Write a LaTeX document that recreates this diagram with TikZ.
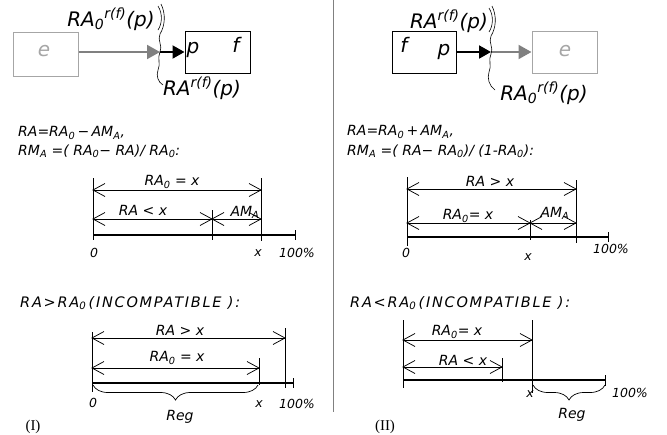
\documentclass[tikz,border=0pt]{standalone}
\usepackage{fontspec}
\setmainfont{DejaVu Sans}
\newfontfamily\romanfont{Liberation Serif}
\usetikzlibrary{arrows.meta,decorations.pathreplacing}
\definecolor{boxgray}{HTML}{A6A6A6}
\definecolor{arrgray}{HTML}{808080}
\definecolor{divgray}{HTML}{808080}
% dimension line with open barbs at both ends (horizontal)
\newcommand\dimln[2]{%
  \draw[dim] (#1) -- (#2);
  \draw[dim] ([shift={(12,-6.5)}]#1) -- (#1) -- ([shift={(12,6.5)}]#1);
  \draw[dim] ([shift={(-12,-6.5)}]#2) -- (#2) -- ([shift={(-12,6.5)}]#2);}
\begin{document}
\begin{tikzpicture}[x=1pt,y=-1pt,
  big/.style={inner sep=0pt, font=\fontsize{20}{22}\selectfont\itshape},
  eq/.style={inner sep=0pt, anchor=west, font=\fontsize{14}{16}\selectfont\itshape},
  captiontext/.style={inner sep=0pt, anchor=west, font=\fontsize{14.5}{16}\selectfont\itshape\addfontfeature{LetterSpace=12}},
  lbl/.style={inner sep=0pt, font=\fontsize{14}{16}\selectfont\itshape},
  small/.style={inner sep=0pt, font=\fontsize{12.5}{14}\selectfont\itshape},
  roman/.style={inner sep=0pt, font=\fontsize{15}{17}\selectfont\romanfont},
  graybox/.style={draw=boxgray, line width=1pt},
  blackbox/.style={draw=black, line width=1pt},
  grayarrow/.style={draw=arrgray, line width=2pt, -{Triangle[length=13pt,width=14pt]}},
  blackarrow/.style={draw=black, line width=2pt, -{Triangle[length=12pt,width=13pt]}},
  cut/.style={line width=0.6pt},
  dim/.style={line width=0.75pt},
  tick/.style={line width=0.8pt},
  axis/.style={line width=1.1pt},
  brc/.style={line width=0.7pt, decorate, decoration={brace,mirror,amplitude=15pt}}
]
\useasboundingbox (0,0) rectangle (667,434);

% divider
\draw[divgray, line width=1pt] (333,0) -- (333,412);

% ---------------- top left ----------------
\node[graybox, minimum width=65pt, minimum height=44pt] (eL) at (45.5,54) {};
\node[big, text=boxgray] (eLt) at (44,51) {e};
\node[blackbox, minimum width=65pt, minimum height=42pt] (fL) at (217.5,52) {};
\node[big] (pL) at (193,50) {p};
\node[big] (fLt) at (236,45) {f};
\coordinate (cutL) at (160,52);
\draw[grayarrow] (eL.east |- cutL) -- (cutL);
\draw[blackarrow] (cutL) -- (fL.west |- cutL);
\draw[cut] (161,4) .. controls (166,14) and (165,26) .. (160,34) .. controls (157,40) and (163,46) .. (160,52) .. controls (157,58) and (161,64) .. (158,70) .. controls (156,76) and (158,82) .. (163,85);
\draw[cut] (158,6) .. controls (163,14) and (162,24) .. (158,30);
\node[big] (lblL1) at (111,19) {RA\textsubscript{0}\textsuperscript{r(f)}(p)};
\node[big] (lblL2) at (202,88) {RA\textsuperscript{r(f)}(p)};

% ---------------- top right ----------------
\node[blackbox, minimum width=64pt, minimum height=42pt] (fR) at (424,52) {};
\node[big] (fRt) at (404,45) {f};
\node[big] (pRt) at (444,52) {p};
\node[graybox, minimum width=65pt, minimum height=42pt] (eR) at (564.5,52) {};
\node[big, text=boxgray] (eRt) at (565,51) {e};
\coordinate (cutR) at (491,52);
\draw[blackarrow] (fR.east |- cutR) -- (cutR);
\draw[grayarrow] (cutR) -- (eR.west |- cutR);
\draw[cut] (492,6) .. controls (497,16) and (496,28) .. (491,36) .. controls (488,42) and (494,48) .. (491,54) .. controls (488,60) and (492,66) .. (489,72) .. controls (487,78) and (489,86) .. (495,90);
\draw[cut] (489,8) .. controls (494,16) and (493,26) .. (489,32);
\node[big] (lblR1) at (449,21) {RA\textsuperscript{r(f)}(p)};
\node[big] (lblR2) at (544,93) {RA\textsubscript{0}\textsuperscript{r(f)}(p)};

% ---------------- equations ----------------
\node[eq] (eqL1) at (18,133) {RA=RA\textsubscript{0}\,−\,AM\textsubscript{A},};
\node[eq] (eqL2) at (18,151) {RM\textsubscript{A} =( RA\textsubscript{0}− RA)/ RA\textsubscript{0}:};
\node[eq] (eqR1) at (347,132) {RA=RA\textsubscript{0}\,+\,AM\textsubscript{A},};
\node[eq] (eqR2) at (347,151) {RM\textsubscript{A} =( RA− RA\textsubscript{0})/ (1-RA\textsubscript{0}):};

% ---------------- diagram left 1 ----------------
\coordinate (a1L) at (93,235); \coordinate (a1E) at (295,235);
\coordinate (a1t1) at (93,190); \coordinate (a1t2) at (261,190);
\coordinate (a1s1) at (93,219); \coordinate (a1s2) at (212,219); \coordinate (a1s3) at (261,219);
\draw[axis] (a1L) -- (a1E);
\draw[tick] (93,178) -- (93,240);
\draw[tick] (261,178) -- (261,241);
\draw[tick] (212,210) -- (212,240);
\draw[tick] (295,230) -- (295,240);
\dimln{a1t1}{a1t2}
\dimln{a1s1}{a1s2}
\dimln{a1s2}{a1s3}
\node[lbl] (d1a) at (172,182) {RA\textsubscript{0} = x};
\node[lbl] (d1b) at (143,210) {RA < x};
\node[lbl] (d1c) at (245,212) {AM\textsubscript{A}};
\node[small] (d1z) at (94,253) {0};
\node[small] (d1x) at (258,253) {x};
\node[small] (d1p) at (297,253) {100\%};

% ---------------- diagram right 1 ----------------
\coordinate (b1L) at (407,237); \coordinate (b1E) at (608,237);
\coordinate (b1t1) at (407,189); \coordinate (b1t2) at (576,189);
\coordinate (b1s1) at (407,223); \coordinate (b1s2) at (530,223); \coordinate (b1s3) at (576,223);
\draw[axis] (b1L) -- (b1E);
\draw[tick] (407,177) -- (407,246);
\draw[tick] (576,180) -- (576,243);
\draw[tick] (530,220) -- (530,240);
\draw[tick] (608,232) -- (608,242);
\dimln{b1t1}{b1t2}
\dimln{b1s1}{b1s2}
\dimln{b1s2}{b1s3}
\node[lbl] (e1a) at (490,181) {RA > x};
\node[lbl] (e1b) at (468,216) {RA\textsubscript{0}= x};
\node[lbl] (e1c) at (555,213) {AM\textsubscript{A}};
\node[small] (e1z) at (406,253) {0};
\node[small] (e1x) at (528,257) {x};
\node[small] (e1p) at (611,249) {100\%};

% ---------------- captions ----------------
\node[captiontext] (capL) at (20,303) {RA>RA\textsubscript{0}\,(INCOMPATIBLE ):};
\node[captiontext] (capR) at (350,303) {RA<RA\textsubscript{0}\,(INCOMPATIBLE ):};

% ---------------- diagram left 2 ----------------
\coordinate (c2t1) at (92,338); \coordinate (c2t2) at (285,338);
\coordinate (c2s1) at (92,368); \coordinate (c2s2) at (259,368);
\coordinate (c2b1) at (93,385); \coordinate (c2b2) at (258,385);
\draw[axis] (92,383) -- (293,383);
\draw[tick] (92,332) -- (92,392);
\draw[tick] (285,328) -- (285,388);
\draw[tick] (259,358) -- (259,385);
\draw[tick] (293,378) -- (293,388);
\dimln{c2t1}{c2t2}
\dimln{c2s1}{c2s2}
\draw[brc] (c2b1) -- (c2b2);
\node[lbl] (f2a) at (180,330) {RA > x};
\node[lbl] (f2b) at (177,358) {RA\textsubscript{0} = x};
\node[small] (f2z) at (93,403) {0};
\node[small] (f2x) at (259,404) {x};
\node[small] (f2p) at (297,404) {100\%};
\node[lbl] (f2r) at (180,417) {Reg};
\node[roman] (numI) at (33,427) {(I)};

% ---------------- diagram right 2 ----------------
\coordinate (d2t1) at (403,340); \coordinate (d2t2) at (532,340);
\coordinate (d2s1) at (403,367); \coordinate (d2s2) at (502,367);
\coordinate (d2b1) at (533,385); \coordinate (d2b2) at (605,385);
\draw[axis] (403,380) -- (605,380);
\draw[tick] (403,320) -- (403,388);
\draw[tick] (532,320) -- (532,393);
\draw[tick] (502,358) -- (502,382);
\draw[tick] (605,375) -- (605,386);
\dimln{d2t1}{d2t2}
\dimln{d2s1}{d2s2}
\draw[brc] (d2b1) -- (d2b2);
\node[lbl] (g2a) at (457,332) {RA\textsubscript{0}= x};
\node[lbl] (g2b) at (463,360) {RA < x};
\node[small] (g2x) at (530,394) {x};
\node[small] (g2p) at (630,393) {100\%};
\node[lbl] (g2r) at (572,415) {Reg};
\node[roman] (numII) at (385,427) {(II)};
\end{tikzpicture}
\end{document}
